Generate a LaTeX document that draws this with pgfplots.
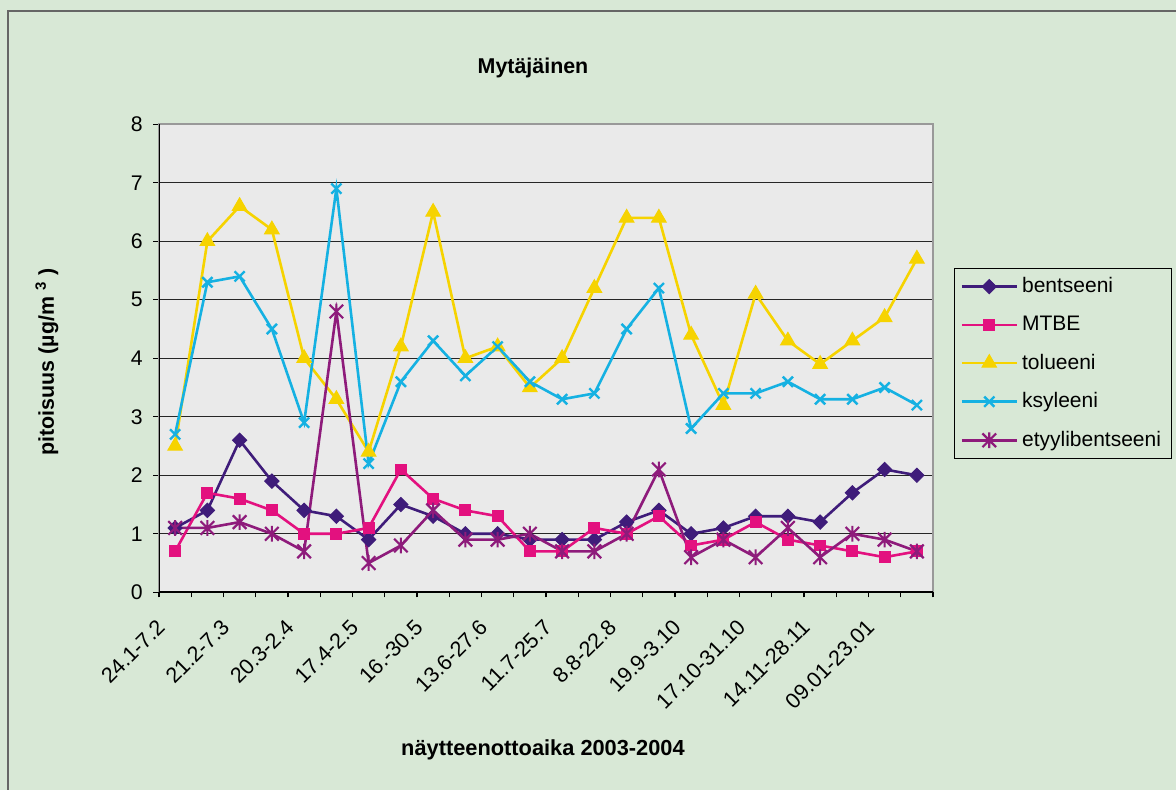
\documentclass[border=0pt]{standalone}
\usepackage{pgfplots}
\pgfplotsset{compat=1.18}
\usepackage{fontspec}
\setmainfont{Liberation Sans}
\definecolor{bg}{HTML}{D8E8D6}
\definecolor{plotbg}{HTML}{EAEAEA}
\definecolor{cbenz}{HTML}{3F1C7A}
\definecolor{cmtbe}{HTML}{E3117F}
\definecolor{ctol}{HTML}{F6D300}
\definecolor{cksy}{HTML}{15B1E2}
\definecolor{cety}{HTML}{8E1B7B}
\pgfdeclareplotmark{xstar}{%
  \pgfpathmoveto{\pgfqpoint{-\pgfplotmarksize}{-\pgfplotmarksize}}%
  \pgfpathlineto{\pgfqpoint{\pgfplotmarksize}{\pgfplotmarksize}}%
  \pgfpathmoveto{\pgfqpoint{-\pgfplotmarksize}{\pgfplotmarksize}}%
  \pgfpathlineto{\pgfqpoint{\pgfplotmarksize}{-\pgfplotmarksize}}%
  \pgfpathmoveto{\pgfqpoint{0pt}{-1.15\pgfplotmarksize}}%
  \pgfpathlineto{\pgfqpoint{0pt}{1.15\pgfplotmarksize}}%
  \pgfusepathqstroke}
\begin{document}
\begin{tikzpicture}
\useasboundingbox (0,0) rectangle (588pt,395pt);
\fill[bg] (0,0) rectangle (588pt,395pt);
\draw[black!60, line width=0.8pt] (4pt,0) -- (4pt,389.5pt) -- (588pt,389.5pt);
\node[font=\bfseries\fontsize{10.7}{13}\selectfont] at (266.5pt,361pt) {Mytäjäinen};
\node[rotate=90, font=\bfseries\fontsize{10.7}{13}\selectfont] at (23.5pt,214pt) {pitoisuus (µg/m \textsuperscript{3} )};
\node[font=\bfseries\fontsize{10.9}{13}\selectfont] at (271.5pt,20pt) {näytteenottoaika 2003-2004};
\begin{axis}[
  at={(79.5pt,98.85pt)}, anchor=south west,
  width=387pt, height=234pt, scale only axis,
  xmin=-0.5, xmax=23.5, ymin=0, ymax=8,
  axis background/.style={fill=plotbg},
  xtick={0,2,...,22},
  xticklabels={24.1-7.2,21.2-7.3,20.3-2.4,17.4-2.5,16.-30.5,13.6-27.6,11.7-25.7,8.8-22.8,19.9-3.10,17.10-31.10,14.11-28.11,09.01-23.01},
  xtick style={draw=none},
  extra x ticks={-0.5,0.5,...,23.5},
  extra x tick labels={},
  extra x tick style={xtick style={draw=black}, major tick length=2.5pt, grid=none},
  ytick={0,1,...,8},
  ymajorgrids,
  major grid style={black!85, line width=0.6pt},
  tick align=outside, xtick pos=bottom, ytick pos=left,
  major tick length=3pt,
  tick style={black, line width=0.6pt},
  axis line style={draw=black!40, line width=1pt},
  /pgf/number format/assume math mode=true,
  tick label style={font=\fontsize{10.6}{12}\selectfont},
  xticklabel style={font=\fontsize{10.8}{12}\selectfont, xshift=-7pt, yshift=-12.5pt, rotate=45, anchor=east, inner sep=0pt},
  yticklabel style={inner sep=0pt, xshift=-5pt},
  legend style={at={(1.0271,0.693)}, anchor=north west, fill=bg, draw=black, line width=0.5pt,
    font=\fontsize{10.5}{12}\selectfont, row sep=6.2pt, inner xsep=3pt, inner ysep=2.5pt},
  legend cell align=left,
  legend image code/.code={\draw[mark repeat=2,mark phase=2] plot coordinates {(0pt,0pt) (13.75pt,0pt) (27.5pt,0pt)};},
]
\addplot[color=cbenz, line width=1.3pt, mark=square*, mark size=2.5pt, mark options={rotate=45, fill=cbenz, line width=0.5pt}]
coordinates {(0,1.1)(1,1.4)(2,2.6)(3,1.9)(4,1.4)(5,1.3)(6,0.9)(7,1.5)(8,1.3)(9,1.0)(10,1.0)(11,0.9)(12,0.9)(13,0.9)(14,1.2)(15,1.4)(16,1.0)(17,1.1)(18,1.3)(19,1.3)(20,1.2)(21,1.7)(22,2.1)(23,2.0)};
\addlegendentry{bentseeni}
\addplot[color=cmtbe, line width=1.3pt, mark=square*, mark size=2.7pt, mark options={fill=cmtbe, line width=0.5pt}]
coordinates {(0,0.7)(1,1.7)(2,1.6)(3,1.4)(4,1.0)(5,1.0)(6,1.1)(7,2.1)(8,1.6)(9,1.4)(10,1.3)(11,0.7)(12,0.7)(13,1.1)(14,1.0)(15,1.3)(16,0.8)(17,0.9)(18,1.2)(19,0.9)(20,0.8)(21,0.7)(22,0.6)(23,0.7)};
\addlegendentry{MTBE}
\addplot[color=ctol, line width=1.3pt, mark=triangle*, mark size=4.2pt, mark options={fill=ctol, line width=0.5pt}]
coordinates {(0,2.5)(1,6.0)(2,6.6)(3,6.2)(4,4.0)(5,3.3)(6,2.4)(7,4.2)(8,6.5)(9,4.0)(10,4.2)(11,3.5)(12,4.0)(13,5.2)(14,6.4)(15,6.4)(16,4.4)(17,3.2)(18,5.1)(19,4.3)(20,3.9)(21,4.3)(22,4.7)(23,5.7)};
\addlegendentry{tolueeni}
\addplot[color=cksy, line width=1.3pt, mark=x, mark size=3.6pt, mark options={line width=1.2pt}]
coordinates {(0,2.7)(1,5.3)(2,5.4)(3,4.5)(4,2.9)(5,6.9)(6,2.2)(7,3.6)(8,4.3)(9,3.7)(10,4.2)(11,3.6)(12,3.3)(13,3.4)(14,4.5)(15,5.2)(16,2.8)(17,3.4)(18,3.4)(19,3.6)(20,3.3)(21,3.3)(22,3.5)(23,3.2)};
\addlegendentry{ksyleeni}
\addplot[color=cety, line width=1.3pt, mark=xstar, mark size=3.4pt, mark options={line width=1.1pt}]
coordinates {(0,1.1)(1,1.1)(2,1.2)(3,1.0)(4,0.7)(5,4.8)(6,0.5)(7,0.8)(8,1.4)(9,0.9)(10,0.9)(11,1.0)(12,0.7)(13,0.7)(14,1.0)(15,2.1)(16,0.6)(17,0.9)(18,0.6)(19,1.1)(20,0.6)(21,1.0)(22,0.9)(23,0.7)};
\addlegendentry{etyylibentseeni}
\draw[black, line width=0.8pt] (rel axis cs:0,1) -- (rel axis cs:0,0) -- (rel axis cs:1,0);
\end{axis}
\end{tikzpicture}
\end{document}
